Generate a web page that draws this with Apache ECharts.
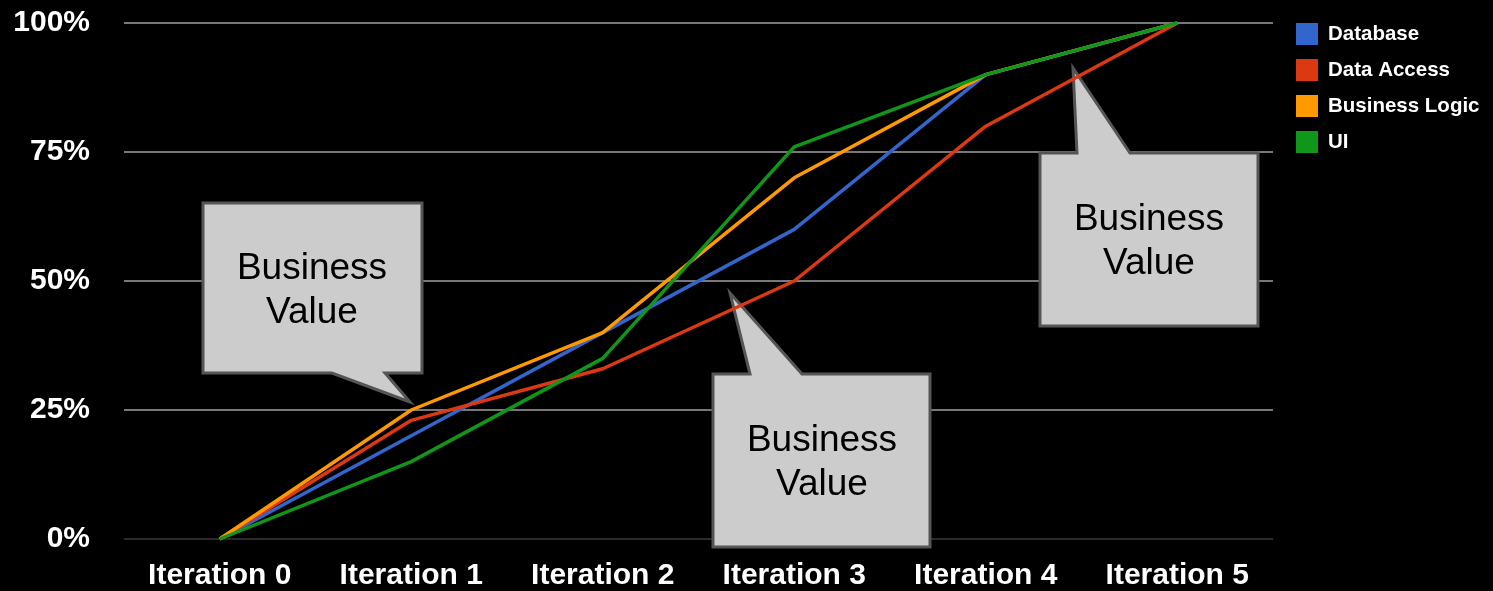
<!DOCTYPE html>
<html>
<head>
<meta charset="utf-8">
<script src="https://cdn.jsdelivr.net/npm/echarts@6/dist/echarts.min.js"></script>
<style>
  html, body { margin: 0; padding: 0; background: #000; }
  #chart { width: 1493px; height: 591px; }
</style>
</head>
<body>
<div id="chart"></div>
<script>
// iterations on the x axis
const iterations = ['Iteration 0', 'Iteration 1', 'Iteration 2', 'Iteration 3', 'Iteration 4', 'Iteration 5'];

// percent complete per layer
const database = [0, 20, 40, 60, 90, 100];
const dataAccess = [0, 23, 33, 50, 80, 100];
const businessLogic = [0, 25, 40, 70, 90, 100];
const ui = [0, 15, 35, 76, 90, 100];

const seriesNames = ['Database', 'Data Access', 'Business Logic', 'UI'];
const seriesColors = ['#3366cc', '#dc3912', '#ff9900', '#109618'];

const FONT = '"Liberation Sans", Arial, sans-serif';

// speech bubble callout (box + tail), text in middle
function callout(points, cx, cy) {
  return [
    {
      type: 'polygon',
      z: 1,
      shape: { points: points },
      style: { fill: '#cccccc', stroke: '#555555', lineWidth: 3, lineJoin: 'miter' }
    },
    {
      type: 'text',
      z: 1,
      x: cx,
      y: cy,
      style: {
        text: 'Business\nValue',
        fill: '#000',
        font: '37px ' + FONT,
        lineHeight: 44,
        align: 'center',
        verticalAlign: 'middle'
      }
    }
  ];
}

const myChart = echarts.init(document.getElementById('chart'));

const option = {
  backgroundColor: '#000',
  animation: false,
  color: seriesColors,
  grid: { left: 124, right: 220, top: 23, bottom: 52 },
  legend: {
    orient: 'vertical',
    left: 1296,
    top: 23,
    padding: 0,
    itemWidth: 22,
    itemHeight: 22,
    itemGap: 14,
    icon: 'rect',
    data: seriesNames,
    textStyle: { color: '#fff', fontSize: 20.5, fontWeight: 'bold', fontFamily: FONT, padding: [0, 0, 0, 5] }
  },
  xAxis: {
    type: 'category',
    data: iterations,
    boundaryGap: true,
    axisLine: { show: false },
    axisTick: { show: false },
    axisLabel: { color: '#fff', fontSize: 30, fontWeight: 'bold', fontFamily: FONT, margin: 22 }
  },
  yAxis: {
    type: 'value',
    min: 0,
    max: 100,
    interval: 25,
    axisLine: { show: false },
    axisTick: { show: false },
    axisLabel: { color: '#fff', fontSize: 30, fontWeight: 'bold', fontFamily: FONT, margin: 34, formatter: '{value}%' },
    splitLine: { lineStyle: { color: ['#3a3a3a', '#a0a0a0', '#a0a0a0', '#a0a0a0', '#a0a0a0'], width: 1.5 } }
  },
  graphic: [].concat(
    callout([[203, 203], [422, 203], [422, 373], [385, 373], [410, 402], [332, 373], [203, 373]], 312, 291),
    callout([[713, 374], [750, 374], [730, 293], [802, 374], [930, 374], [930, 547], [713, 547]], 822, 463),
    callout([[1040, 153], [1077, 153], [1073, 68], [1130, 153], [1258, 153], [1258, 326], [1040, 326]], 1149, 242)
  ),
  series: [
    { name: 'Database', type: 'line', data: database },
    { name: 'Data Access', type: 'line', data: dataAccess },
    { name: 'Business Logic', type: 'line', data: businessLogic },
    { name: 'UI', type: 'line', data: ui }
  ].map(function (s) {
    s.showSymbol = false;
    s.symbol = 'none';
    s.z = 3;
    s.lineStyle = { width: 3.5 };
    return s;
  })
};

myChart.setOption(option);
</script>
</body>
</html>
